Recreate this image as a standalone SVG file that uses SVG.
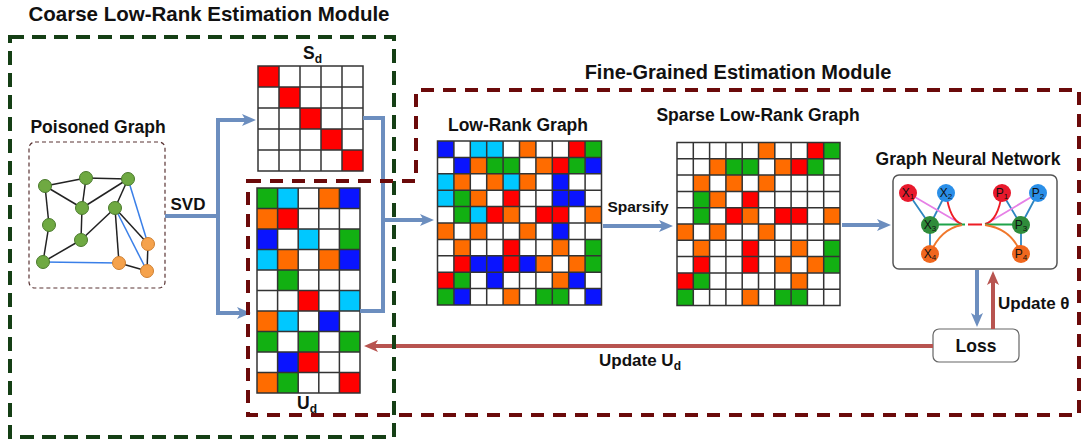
<svg xmlns="http://www.w3.org/2000/svg" width="1081" height="445" viewBox="0 0 1081 445">
<style>
text{font-family:"Liberation Sans",Arial,sans-serif;font-weight:bold;fill:#111}
.r{fill:#ff0000}.g{fill:#12b012}.b{fill:#0a14ff}.c{fill:#00c8ff}.o{fill:#ff6c00}
.grid{fill:none;stroke:#333;stroke-width:1.5}
.bg{fill:#fff}
.ge{stroke:#222;stroke-width:1.5}
.gb{stroke:#3a7fe8;stroke-width:1.5}
.gn{fill:#6fa942;stroke:#4a7a2c;stroke-width:1}
.gno{fill:#f5a24c;stroke:#cf7f2f;stroke-width:1}
.blue{fill:none;stroke:#6c8ebf;stroke-width:4}
.red{fill:none;stroke:#b85450;stroke-width:4}
.nl{font-family:"Liberation Sans",Arial,sans-serif;font-weight:normal;font-size:12px;fill:#111}
</style>
<defs>
<marker id="ab" viewBox="0 0 14 12" refX="6" refY="6" markerWidth="14" markerHeight="12" markerUnits="userSpaceOnUse" orient="auto"><path d="M0,0 L14,6 L0,12 L3.5,6 Z" fill="#6c8ebf"/></marker>
<marker id="ar" viewBox="0 0 14 12" refX="6" refY="6" markerWidth="14" markerHeight="12" markerUnits="userSpaceOnUse" orient="auto"><path d="M0,0 L14,6 L0,12 L3.5,6 Z" fill="#b85450"/></marker>
</defs>
<rect width="1081" height="445" fill="#fff"/>

<text x="209" y="21" font-size="20.5" text-anchor="middle">Coarse Low-Rank Estimation Module</text>
<text x="738" y="79" font-size="20" text-anchor="middle">Fine-Grained Estimation Module</text>

<!-- Poisoned graph -->
<g id="poisoned-graph">
<text x="98" y="133" font-size="17.5" text-anchor="middle">Poisoned Graph</text>
<rect x="29" y="142" width="136" height="146" rx="6" fill="none" stroke="#5a3434" stroke-width="1.2" stroke-dasharray="4 3"/>
<g class="ge">
<line x1="45" y1="186" x2="86" y2="178"/>
<line x1="86" y1="178" x2="128" y2="179"/>
<line x1="45" y1="186" x2="82" y2="208"/>
<line x1="86" y1="178" x2="82" y2="208"/>
<line x1="128" y1="179" x2="82" y2="208"/>
<line x1="128" y1="179" x2="115" y2="208"/>
<line x1="82" y1="208" x2="81" y2="240"/>
<line x1="115" y1="208" x2="81" y2="240"/>
<line x1="45" y1="186" x2="49" y2="225"/>
<line x1="49" y1="225" x2="43" y2="262"/>
<line x1="43" y1="262" x2="81" y2="240"/>
<line x1="115" y1="208" x2="119" y2="263"/>
<line x1="115" y1="208" x2="148" y2="244"/>
<line x1="148" y1="244" x2="147" y2="271"/>
<line x1="119" y1="263" x2="147" y2="271"/>
</g>
<g class="gb">
<line x1="128" y1="179" x2="148" y2="244"/>
<line x1="115" y1="208" x2="147" y2="271"/>
<line x1="43" y1="262" x2="119" y2="263"/>
</g>
<g class="gn">
<circle cx="45" cy="186" r="6.5"/><circle cx="86" cy="178" r="6.5"/><circle cx="128" cy="179" r="6.5"/>
<circle cx="82" cy="208" r="6.5"/><circle cx="115" cy="208" r="6.5"/><circle cx="49" cy="225" r="6.5"/>
<circle cx="81" cy="240" r="6.5"/><circle cx="43" cy="262" r="6.5"/>
</g>
<g class="gno">
<circle cx="148" cy="244" r="6.5"/><circle cx="119" cy="263" r="6.5"/><circle cx="147" cy="271" r="6.5"/>
</g>
</g>

<!-- Sd -->
<g id="sd-matrix">
<text x="303" y="59" font-size="17.5">S<tspan font-size="12" dy="4">d</tspan></text>
<g transform="translate(258,66)">
<rect class="bg" width="105" height="105"/>
<rect class="r" x="0" y="0" width="21" height="21"/>
<rect class="r" x="21" y="21" width="21" height="21"/>
<rect class="r" x="42" y="42" width="21" height="21"/>
<rect class="r" x="63" y="63" width="21" height="21"/>
<rect class="r" x="84" y="84" width="21" height="21"/>
<path class="grid" d="M0,0H105V105H0Z M21,0V105M42,0V105M63,0V105M84,0V105 M0,21H105M0,42H105M0,63H105M0,84H105"/>
</g>
</g>

<!-- Ud -->
<g id="ud-matrix">
<g transform="translate(257,188)">
<rect class="bg" width="103" height="205"/>
<rect class="g" x="0" y="0" width="20.6" height="20.5"/><rect class="c" x="20.6" y="0" width="20.6" height="20.5"/><rect class="o" x="61.8" y="0" width="20.6" height="20.5"/><rect class="b" x="82.4" y="0" width="20.6" height="20.5"/>
<rect class="o" x="0" y="20.5" width="20.6" height="20.5"/><rect class="r" x="20.6" y="20.5" width="20.6" height="20.5"/>
<rect class="b" x="0" y="41" width="20.6" height="20.5"/><rect class="c" x="41.2" y="41" width="20.6" height="20.5"/><rect class="g" x="82.4" y="41" width="20.6" height="20.5"/>
<rect class="c" x="0" y="61.5" width="20.6" height="20.5"/><rect class="o" x="20.6" y="61.5" width="20.6" height="20.5"/><rect class="o" x="61.8" y="61.5" width="20.6" height="20.5"/><rect class="b" x="82.4" y="61.5" width="20.6" height="20.5"/>
<rect class="g" x="20.6" y="82" width="20.6" height="20.5"/>
<rect class="r" x="41.2" y="102.5" width="20.6" height="20.5"/><rect class="c" x="82.4" y="102.5" width="20.6" height="20.5"/>
<rect class="o" x="0" y="123" width="20.6" height="20.5"/><rect class="c" x="20.6" y="123" width="20.6" height="20.5"/><rect class="b" x="61.8" y="123" width="20.6" height="20.5"/>
<rect class="g" x="0" y="143.5" width="20.6" height="20.5"/><rect class="g" x="41.2" y="143.5" width="20.6" height="20.5"/><rect class="g" x="82.4" y="143.5" width="20.6" height="20.5"/>
<rect class="b" x="20.6" y="164" width="20.6" height="20.5"/><rect class="r" x="41.2" y="164" width="20.6" height="20.5"/>
<rect class="o" x="0" y="184.5" width="20.6" height="20.5"/><rect class="g" x="20.6" y="184.5" width="20.6" height="20.5"/><rect class="r" x="82.4" y="184.5" width="20.6" height="20.5"/>
<path class="grid" d="M0,0H103V205H0Z M20.6,0V205M41.2,0V205M61.8,0V205M82.4,0V205 M0,20.5H103M0,41H103M0,61.5H103M0,82H103M0,102.5H103M0,123H103M0,143.5H103M0,164H103M0,184.5H103"/>
</g>
<text x="297" y="409" font-size="17.5">U<tspan font-size="12" dy="4">d</tspan></text>
</g>

<!-- Low-rank graph -->
<g id="low-rank-graph">
<text x="518" y="131" font-size="17.5" text-anchor="middle">Low-Rank Graph</text>
<g transform="translate(437.5,141)">
<rect class="bg" width="164" height="164"/>
<g>
<rect class="b" x="0" y="0" width="16.4" height="16.4"/><rect class="c" x="32.8" y="0" width="16.4" height="16.4"/><rect class="c" x="49.2" y="0" width="16.4" height="16.4"/><rect class="o" x="82" y="0" width="16.4" height="16.4"/><rect class="r" x="131.2" y="0" width="16.4" height="16.4"/><rect class="g" x="147.6" y="0" width="16.4" height="16.4"/>
<rect class="b" x="16.4" y="16.4" width="16.4" height="16.4"/><rect class="o" x="32.8" y="16.4" width="16.4" height="16.4"/><rect class="g" x="49.2" y="16.4" width="16.4" height="16.4"/><rect class="g" x="65.6" y="16.4" width="16.4" height="16.4"/><rect class="o" x="98.4" y="16.4" width="16.4" height="16.4"/><rect class="r" x="114.8" y="16.4" width="16.4" height="16.4"/><rect class="g" x="131.2" y="16.4" width="16.4" height="16.4"/><rect class="b" x="147.6" y="16.4" width="16.4" height="16.4"/>
<rect class="c" x="0" y="32.8" width="16.4" height="16.4"/><rect class="o" x="16.4" y="32.8" width="16.4" height="16.4"/><rect class="o" x="49.2" y="32.8" width="16.4" height="16.4"/><rect class="c" x="65.6" y="32.8" width="16.4" height="16.4"/><rect class="o" x="82" y="32.8" width="16.4" height="16.4"/><rect class="b" x="114.8" y="32.8" width="16.4" height="16.4"/>
<rect class="c" x="0" y="49.2" width="16.4" height="16.4"/><rect class="g" x="16.4" y="49.2" width="16.4" height="16.4"/><rect class="o" x="32.8" y="49.2" width="16.4" height="16.4"/><rect class="r" x="65.6" y="49.2" width="16.4" height="16.4"/><rect class="b" x="114.8" y="49.2" width="16.4" height="16.4"/><rect class="b" x="131.2" y="49.2" width="16.4" height="16.4"/>
<rect class="g" x="16.4" y="65.6" width="16.4" height="16.4"/><rect class="c" x="32.8" y="65.6" width="16.4" height="16.4"/><rect class="r" x="49.2" y="65.6" width="16.4" height="16.4"/><rect class="o" x="65.6" y="65.6" width="16.4" height="16.4"/><rect class="r" x="98.4" y="65.6" width="16.4" height="16.4"/><rect class="r" x="114.8" y="65.6" width="16.4" height="16.4"/><rect class="o" x="147.6" y="65.6" width="16.4" height="16.4"/>
<rect class="o" x="0" y="82" width="16.4" height="16.4"/><rect class="o" x="32.8" y="82" width="16.4" height="16.4"/><rect class="o" x="82" y="82" width="16.4" height="16.4"/><rect class="b" x="114.8" y="82" width="16.4" height="16.4"/>
<rect class="o" x="16.4" y="98.4" width="16.4" height="16.4"/><rect class="r" x="65.6" y="98.4" width="16.4" height="16.4"/><rect class="o" x="114.8" y="98.4" width="16.4" height="16.4"/><rect class="g" x="147.6" y="98.4" width="16.4" height="16.4"/>
<rect class="r" x="16.4" y="114.8" width="16.4" height="16.4"/><rect class="b" x="32.8" y="114.8" width="16.4" height="16.4"/><rect class="b" x="49.2" y="114.8" width="16.4" height="16.4"/><rect class="r" x="65.6" y="114.8" width="16.4" height="16.4"/><rect class="b" x="82" y="114.8" width="16.4" height="16.4"/><rect class="o" x="98.4" y="114.8" width="16.4" height="16.4"/><rect class="o" x="131.2" y="114.8" width="16.4" height="16.4"/><rect class="g" x="147.6" y="114.8" width="16.4" height="16.4"/>
<rect class="r" x="0" y="131.2" width="16.4" height="16.4"/><rect class="g" x="16.4" y="131.2" width="16.4" height="16.4"/><rect class="b" x="49.2" y="131.2" width="16.4" height="16.4"/><rect class="o" x="114.8" y="131.2" width="16.4" height="16.4"/><rect class="b" x="131.2" y="131.2" width="16.4" height="16.4"/>
<rect class="g" x="0" y="147.6" width="16.4" height="16.4"/><rect class="b" x="16.4" y="147.6" width="16.4" height="16.4"/><rect class="o" x="65.6" y="147.6" width="16.4" height="16.4"/><rect class="g" x="98.4" y="147.6" width="16.4" height="16.4"/><rect class="g" x="114.8" y="147.6" width="16.4" height="16.4"/><rect class="b" x="147.6" y="147.6" width="16.4" height="16.4"/>
</g>
<path class="grid" d="M0,0H164V164H0Z M16.4,0V164M32.8,0V164M49.2,0V164M65.6,0V164M82,0V164M98.4,0V164M114.8,0V164M131.2,0V164M147.6,0V164 M0,16.4H164M0,32.8H164M0,49.2H164M0,65.6H164M0,82H164M0,98.4H164M0,114.8H164M0,131.2H164M0,147.6H164"/>
</g>
</g>

<!-- Sparse low-rank graph -->
<g id="sparse-low-rank-graph">
<text x="758" y="121" font-size="17.5" text-anchor="middle">Sparse Low-Rank Graph</text>
<g transform="translate(677,142.5)">
<rect class="bg" width="163" height="163"/>
<g>
<rect class="o" x="81.5" y="0" width="16.3" height="16.3"/><rect class="r" x="130.4" y="0" width="16.3" height="16.3"/><rect class="g" x="146.7" y="0" width="16.3" height="16.3"/>
<rect class="o" x="32.6" y="16.3" width="16.3" height="16.3"/><rect class="g" x="48.9" y="16.3" width="16.3" height="16.3"/><rect class="g" x="65.2" y="16.3" width="16.3" height="16.3"/><rect class="o" x="97.8" y="16.3" width="16.3" height="16.3"/><rect class="r" x="114.1" y="16.3" width="16.3" height="16.3"/><rect class="g" x="130.4" y="16.3" width="16.3" height="16.3"/>
<rect class="o" x="16.3" y="32.6" width="16.3" height="16.3"/><rect class="o" x="48.9" y="32.6" width="16.3" height="16.3"/><rect class="o" x="81.5" y="32.6" width="16.3" height="16.3"/>
<rect class="g" x="16.3" y="48.9" width="16.3" height="16.3"/><rect class="o" x="32.6" y="48.9" width="16.3" height="16.3"/><rect class="r" x="65.2" y="48.9" width="16.3" height="16.3"/>
<rect class="g" x="16.3" y="65.2" width="16.3" height="16.3"/><rect class="r" x="48.9" y="65.2" width="16.3" height="16.3"/><rect class="o" x="65.2" y="65.2" width="16.3" height="16.3"/><rect class="r" x="97.8" y="65.2" width="16.3" height="16.3"/><rect class="r" x="114.1" y="65.2" width="16.3" height="16.3"/><rect class="o" x="146.7" y="65.2" width="16.3" height="16.3"/>
<rect class="o" x="0" y="81.5" width="16.3" height="16.3"/><rect class="o" x="32.6" y="81.5" width="16.3" height="16.3"/><rect class="o" x="81.5" y="81.5" width="16.3" height="16.3"/>
<rect class="o" x="16.3" y="97.8" width="16.3" height="16.3"/><rect class="r" x="65.2" y="97.8" width="16.3" height="16.3"/><rect class="o" x="114.1" y="97.8" width="16.3" height="16.3"/><rect class="g" x="146.7" y="97.8" width="16.3" height="16.3"/>
<rect class="r" x="16.3" y="114.1" width="16.3" height="16.3"/><rect class="r" x="65.2" y="114.1" width="16.3" height="16.3"/><rect class="o" x="97.8" y="114.1" width="16.3" height="16.3"/><rect class="o" x="130.4" y="114.1" width="16.3" height="16.3"/><rect class="g" x="146.7" y="114.1" width="16.3" height="16.3"/>
<rect class="r" x="0" y="130.4" width="16.3" height="16.3"/><rect class="g" x="16.3" y="130.4" width="16.3" height="16.3"/><rect class="o" x="114.1" y="130.4" width="16.3" height="16.3"/>
<rect class="g" x="0" y="146.7" width="16.3" height="16.3"/><rect class="o" x="65.2" y="146.7" width="16.3" height="16.3"/><rect class="g" x="97.8" y="146.7" width="16.3" height="16.3"/><rect class="g" x="114.1" y="146.7" width="16.3" height="16.3"/>
</g>
<path class="grid" d="M0,0H163V163H0Z M16.3,0V163M32.6,0V163M48.9,0V163M65.2,0V163M81.5,0V163M97.8,0V163M114.1,0V163M130.4,0V163M146.7,0V163 M0,16.3H163M0,32.6H163M0,48.9H163M0,65.2H163M0,81.5H163M0,97.8H163M0,114.1H163M0,130.4H163M0,146.7H163"/>
</g>
</g>

<!-- GNN -->
<g id="gnn">
<text x="968" y="165" font-size="17.5" text-anchor="middle">Graph Neural Network</text>
<rect x="893" y="175" width="164" height="94" rx="6" fill="#fff" stroke="#555" stroke-width="1.5"/>
<g fill="none" stroke-width="1.8">
<path d="M908,193 L930,225 M946,193 L930,225 M930,225 L930,254 M1002,193 L1021,225 M1038,193 L1021,225 M1021,225 L1021,254" stroke="#2e86c1"/>
<path d="M908,193 L961,224 M1038,193 L986,224" stroke="#e680e6"/>
<path d="M946,193 Q950,221 962,224 M1002,193 Q998,221 985,224 M968,224.5 H982" stroke="#ee1c25"/>
<path d="M930,224.5 H965 M985,224.5 H1021" stroke="#1fa34a"/>
<path d="M930,254 Q940,229 962,225 M1021,254 Q1012,229 985,225" stroke="#f0782c"/>
</g>
<circle cx="908" cy="193" r="9" fill="#e8192c"/>
<circle cx="946" cy="193" r="9" fill="#2a8fe8"/>
<circle cx="930" cy="225" r="9" fill="#2f8c3b"/>
<circle cx="930" cy="254" r="9" fill="#f0671e"/>
<circle cx="1002" cy="193" r="9" fill="#e8192c"/>
<circle cx="1038" cy="193" r="9" fill="#2a8fe8"/>
<circle cx="1021" cy="225" r="9" fill="#2f8c3b"/>
<circle cx="1021" cy="254" r="9" fill="#f0671e"/>
<text class="nl" x="908" y="197" text-anchor="middle">X<tspan font-size="8" dy="2">1</tspan></text>
<text class="nl" x="946" y="197" text-anchor="middle">X<tspan font-size="8" dy="2">2</tspan></text>
<text class="nl" x="930" y="229" text-anchor="middle">X<tspan font-size="8" dy="2">3</tspan></text>
<text class="nl" x="930" y="258" text-anchor="middle">X<tspan font-size="8" dy="2">4</tspan></text>
<text class="nl" x="1002" y="197" text-anchor="middle">P<tspan font-size="8" dy="2">1</tspan></text>
<text class="nl" x="1038" y="197" text-anchor="middle">P<tspan font-size="8" dy="2">2</tspan></text>
<text class="nl" x="1021" y="229" text-anchor="middle">P<tspan font-size="8" dy="2">3</tspan></text>
<text class="nl" x="1021" y="258" text-anchor="middle">P<tspan font-size="8" dy="2">4</tspan></text>
</g>

<!-- Loss -->
<g id="loss">
<rect x="933" y="329" width="86" height="33" rx="6" fill="#fff" stroke="#666" stroke-width="1.2"/>
<text x="976" y="352" font-size="17.5" text-anchor="middle">Loss</text>
</g>

<!-- Connectors -->
<g id="connectors">
<path class="blue" d="M165,216 H218 V120 H248" marker-end="url(#ab)"/>
<path class="blue" d="M218,216 V313 H243" marker-end="url(#ab)"/>
<path class="blue" d="M363,118 H383 V311 H360"/>
<path class="blue" d="M383,220 H426" marker-end="url(#ab)"/>
<path class="blue" d="M603,226 H665" marker-end="url(#ab)"/>
<path class="blue" d="M842,225 H883" marker-end="url(#ab)"/>
<path class="blue" d="M977,270 V319" marker-end="url(#ab)"/>
<path class="red" d="M993,329 V279" marker-end="url(#ar)"/>
<path class="red" d="M933,346 H372" marker-end="url(#ar)"/>
<text x="188" y="210" font-size="17" text-anchor="middle">SVD</text>
<text x="638" y="212" font-size="15.5" text-anchor="middle">Sparsify</text>
<text x="998" y="309" font-size="17">Update θ</text>
<text x="599" y="366" font-size="17">Update U<tspan font-size="12" dy="4">d</tspan></text>
</g>

<!-- Module boxes -->
<g id="coarse-module">
<rect x="10" y="37" width="384" height="400" fill="none" stroke="#153f15" stroke-width="4" stroke-dasharray="14 8"/>
</g>
<g id="fine-module">
<path d="M248,181 H416 V90 H1079 V415 H248 Z" fill="none" stroke="#6b0a0a" stroke-width="4" stroke-dasharray="13 9"/>
</g>
</svg>
